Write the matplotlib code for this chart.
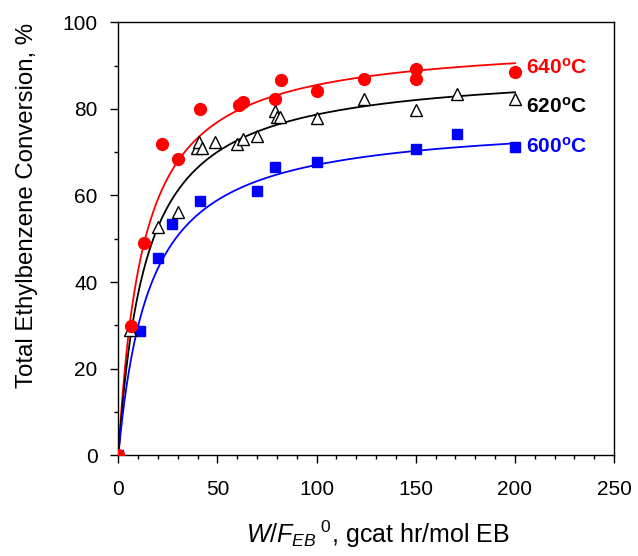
import matplotlib.pyplot as plt
import numpy as np
from matplotlib.ticker import MultipleLocator

plt.rcParams['font.family'] = ['Liberation Sans', 'DejaVu Sans']
plt.rcParams['mathtext.fontset'] = 'custom'
plt.rcParams['mathtext.rm'] = 'Liberation Sans'
plt.rcParams['mathtext.it'] = 'Liberation Sans:italic'
plt.rcParams['mathtext.bf'] = 'Liberation Sans:bold'

# W/F_EB0 (gcat hr/mol EB) and total EB conversion (%)
w_640 = [0, 6.2, 13, 22, 30, 41, 61, 63, 79, 82, 100, 124, 150, 150, 200]
x_640 = [0, 29.9, 49.0, 71.9, 68.5, 80.0, 81.0, 81.7, 82.3, 86.7, 84.1, 86.8, 89.1, 86.8, 88.4]

w_620 = [0, 6, 20, 30, 39.8, 40.8, 42.2, 48.7, 60, 63, 70, 79, 80, 81.5, 100, 124, 150, 171, 200]
x_620 = [0, 29.0, 52.8, 56.2, 70.9, 72.3, 70.9, 72.4, 71.9, 73.0, 73.7, 79.4, 78.2, 78.2, 77.9, 82.2, 79.7, 83.4, 82.2]

w_600 = [0, 11, 20, 27, 41, 70, 79, 100, 150, 171, 200]
x_600 = [0, 28.8, 45.6, 53.4, 58.7, 61.0, 66.5, 67.7, 70.7, 74.1, 71.1]

# model curves X = Xmax*W/(K+W), order 640, 620, 600 C
fit_xmax = [96.2, 89.7, 77.8]
fit_k = [12.5, 14.0, 16.0]
fit_wmax = 200

labels = ['640$^{\\mathbf{o}}$C', '620$^{\\mathbf{o}}$C', '600$^{\\mathbf{o}}$C']
label_y = [89.5, 80.5, 71.3]
colors = ['#ff0000', '#000000', '#0000ff']

fig = plt.figure(figsize=(6.38, 5.56), dpi=100)
ax = fig.add_axes([0.1855, 0.181, 0.777, 0.779])

wfit = np.linspace(0, fit_wmax, 400)
for xm, k, c in zip(fit_xmax, fit_k, colors):
    ax.plot(wfit, xm * wfit / (k + wfit), color=c, lw=1.3, zorder=2)

ax.plot(w_600, x_600, 's', color=colors[2], ms=6.5, mec=colors[2], zorder=3)
ax.plot(w_620, x_620, '^', mfc='white', mec='black', mew=1.0, ms=8, zorder=4)
ax.plot(w_640, x_640, 'o', color=colors[0], ms=8.5, zorder=5)

for lab, y, c in zip(labels, label_y, colors):
    ax.text(205.5, y, lab, color=c, fontsize=15, fontweight='bold', va='center')

ax.set_xlim(0, 250)
ax.set_ylim(0, 100)
ax.xaxis.set_major_locator(MultipleLocator(50))
ax.xaxis.set_minor_locator(MultipleLocator(10))
ax.yaxis.set_major_locator(MultipleLocator(20))
ax.yaxis.set_minor_locator(MultipleLocator(10))
ax.tick_params(which='major', direction='out', length=6, width=1, labelsize=15)
ax.tick_params(axis='x', which='major', pad=12)
ax.tick_params(axis='y', which='major', pad=9)
ax.tick_params(which='minor', direction='out', length=3, width=1)
ax.tick_params(top=False, right=False, which='both')
for s in ax.spines.values():
    s.set_linewidth(1)

ax.set_xlabel('$W/F_{EB}{}^{\\ 0}$, gcat hr/mol EB', fontsize=18)
ax.set_ylabel('Total Ethylbenzene Conversion, %', fontsize=17.3)
ax.xaxis.set_label_coords(0.524, -0.145)
ax.yaxis.set_label_coords(-0.162, 0.576)

fig.savefig('out.png', dpi=100)
